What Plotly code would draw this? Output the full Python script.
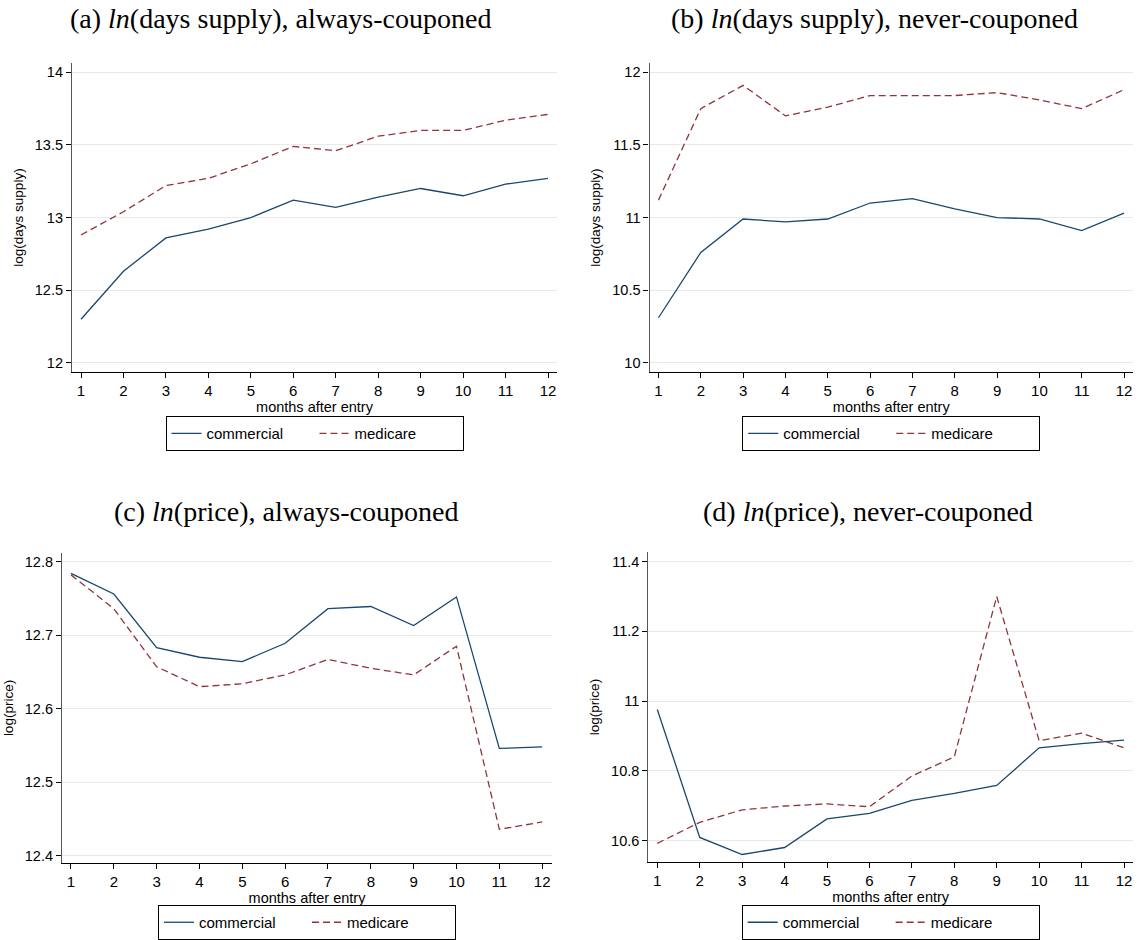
import plotly.graph_objects as go

W, H = 1138, 940

months = list(range(1, 13))
month_ticks = [str(m) for m in months]

# (a) ln(days supply), always-couponed
ds_always_commercial = [12.30, 12.63, 12.86, 12.92, 13.00, 13.12, 13.07, 13.14, 13.20, 13.15, 13.23, 13.27]
ds_always_medicare = [12.88, 13.04, 13.22, 13.27, 13.37, 13.49, 13.46, 13.56, 13.60, 13.60, 13.67, 13.71]
# (b) ln(days supply), never-couponed
ds_never_commercial = [10.31, 10.76, 10.99, 10.97, 10.99, 11.10, 11.13, 11.06, 11.00, 10.99, 10.91, 11.03]
ds_never_medicare = [11.12, 11.75, 11.91, 11.70, 11.76, 11.84, 11.84, 11.84, 11.86, 11.81, 11.75, 11.88]
# (c) ln(price), always-couponed
pr_always_commercial = [12.784, 12.756, 12.683, 12.670, 12.664, 12.689, 12.736, 12.739, 12.713, 12.752, 12.546, 12.548]
pr_always_medicare = [12.782, 12.736, 12.657, 12.630, 12.634, 12.646, 12.667, 12.655, 12.646, 12.685, 12.436, 12.446]
# (d) ln(price), never-couponed
pr_never_commercial = [10.976, 10.609, 10.560, 10.580, 10.662, 10.678, 10.715, 10.735, 10.758, 10.866, 10.878, 10.888]
pr_never_medicare = [10.592, 10.652, 10.688, 10.699, 10.705, 10.697, 10.785, 10.840, 11.300, 10.886, 10.908, 10.866]

titles = [
    "(a) <i>ln</i>(days supply), always-couponed",
    "(b) <i>ln</i>(days supply), never-couponed",
    "(c) <i>ln</i>(price), always-couponed",
    "(d) <i>ln</i>(price), never-couponed",
]
ytitles = ["log(days supply)", "log(days supply)", "log(price)", "log(price)"]
ytick_sets = [
    ([12, 12.5, 13, 13.5, 14], ["12", "12.5", "13", "13.5", "14"]),
    ([10, 10.5, 11, 11.5, 12], ["10", "10.5", "11", "11.5", "12"]),
    ([12.4, 12.5, 12.6, 12.7, 12.8], ["12.4", "12.5", "12.6", "12.7", "12.8"]),
    ([10.6, 10.8, 11, 11.2, 11.4], ["10.6", "10.8", "11", "11.2", "11.4"]),
]
yranges = [[11.935, 14.065], [9.935, 12.065], [12.39, 12.812], [10.538, 11.428]]
xranges = [[0.788, 12.212], [0.788, 12.212], [0.79, 12.23], [0.788, 12.212]]
# pixel boxes: left, right, top, bottom
boxes = [(72, 557, 63, 373), (649.5, 1133, 63, 373), (62, 552, 554, 865), (648.3, 1133, 553, 864)]
title_pos = [(280, 19), (875, 19), (286, 513), (868, 513)]
legend_top = [417, 417, 907, 907]

series = [
    (ds_always_commercial, ds_always_medicare),
    (ds_never_commercial, ds_never_medicare),
    (pr_always_commercial, pr_always_medicare),
    (pr_never_commercial, pr_never_medicare),
]

NAVY = "#1a476f"
MAROON = "#90353b"

fig = go.Figure()
layout = dict(
    width=W, height=H,
    margin=dict(l=0, r=0, t=0, b=0),
    paper_bgcolor="white", plot_bgcolor="white",
    font=dict(family="Liberation Sans, Arial", color="#000", size=14),
    annotations=[],
)

for i in range(4):
    k = "" if i == 0 else str(i + 1)
    leg = "legend" if i == 0 else f"legend{i + 1}"
    com, med = series[i]
    fig.add_trace(go.Scatter(x=months, y=com, mode="lines", name="commercial",
                             line=dict(color=NAVY, width=1.3),
                             xaxis="x" + k, yaxis="y" + k, legend=leg))
    fig.add_trace(go.Scatter(x=months, y=med, mode="lines", name="medicare",
                             line=dict(color=MAROON, width=1.3, dash="7px,4px"),
                             xaxis="x" + k, yaxis="y" + k, legend=leg))
    l, r, t, b = boxes[i]
    layout["xaxis" + k] = dict(
        domain=[l / W, r / W], range=xranges[i], anchor="y" + k,
        tickmode="array", tickvals=months, ticktext=month_ticks,
        ticks="outside", ticklen=5, tickcolor="#000", tickwidth=1,
        showline=True, linecolor="#000", linewidth=1.2,
        showgrid=False, zeroline=False,
        tickfont=dict(size=15, family="Liberation Sans, Arial"),
        title=dict(text="months after entry", font=dict(size=14.5), standoff=0),
    )
    tv, tt = ytick_sets[i]
    layout["yaxis" + k] = dict(
        domain=[1 - b / H, 1 - t / H], range=yranges[i], anchor="x" + k,
        tickmode="array", tickvals=tv, ticktext=tt,
        ticks="outside", ticklen=5, tickcolor="#000", tickwidth=1,
        showline=True, linecolor="#555", linewidth=1.2,
        showgrid=True, gridcolor="#e9e9e9", gridwidth=1, zeroline=False,
        tickfont=dict(size=14.5, family="Liberation Sans, Arial"),
        title=dict(text=ytitles[i], font=dict(size=13.5), standoff=8),
    )
    cx, cy = title_pos[i]
    layout["annotations"].append(dict(
        text=titles[i], x=cx / W, y=1 - cy / H, xref="paper", yref="paper",
        xanchor="center", yanchor="middle", showarrow=False,
        font=dict(family="Liberation Serif, DejaVu Serif, serif", size=28, color="#000"),
    ))
    layout[leg] = dict(
        x=((l + r) / 2) / W, y=1 - legend_top[i] / H, xanchor="center", yanchor="top",
        orientation="h", bordercolor="#000", borderwidth=1, bgcolor="white",
        font=dict(size=15, family="Liberation Sans, Arial"),
        entrywidth=103, entrywidthmode="pixels", tracegroupgap=0,
    )

fig.update_layout(**layout)
fig.write_html("out.html")
